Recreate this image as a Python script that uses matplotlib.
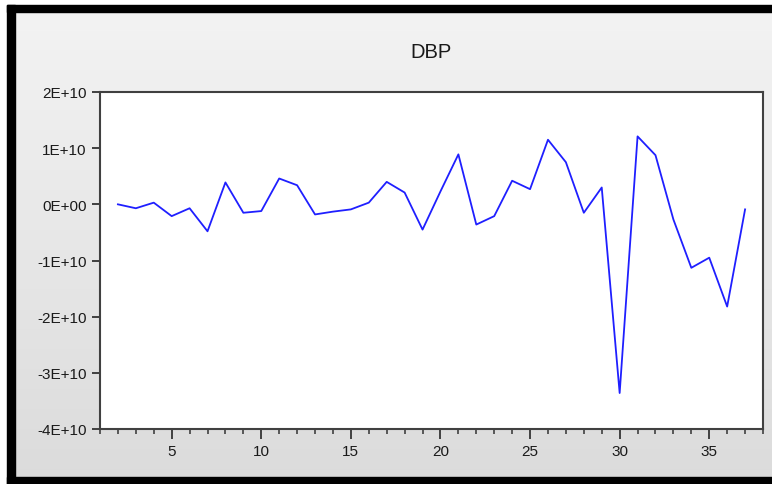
import numpy as np
import matplotlib.pyplot as plt
from matplotlib.patches import Rectangle
from matplotlib.ticker import MultipleLocator

# --- dados (em unidades de 1E+10) ---
periodos = list(range(2, 38))
dbp = [0.00, -0.07, 0.03, -0.21, -0.07, -0.48, 0.39, -0.15, -0.12, 0.46,
       0.34, -0.18, -0.13, -0.09, 0.03, 0.40, 0.21, -0.45, 0.23, 0.89,
       -0.36, -0.21, 0.42, 0.27, 1.15, 0.75, -0.15, 0.30, -3.36, 1.21,
       0.875, -0.27, -1.13, -0.95, -1.82, -0.09]
y_ticks = [2, 1, 0, -1, -2, -3, -4]
y_labels = ['2E+10', '1E+10', '0E+00', '-1E+10', '-2E+10', '-3E+10', '-4E+10']

W, H = 772, 485
fig = plt.figure(figsize=(W / 100, H / 100), dpi=100)
fig.patch.set_facecolor('white')

# fundo em degrade (cinza claro)
ax_bg = fig.add_axes([0, 0, 1, 1], zorder=-2)
grad = np.linspace(0, 1, 256).reshape(-1, 1)
c_top = np.array([0.955, 0.955, 0.955])
c_bot = np.array([0.86, 0.86, 0.86])
img = c_top + grad[..., None] * (c_bot - c_top)
ax_bg.imshow(img, aspect='auto', extent=[0, 1, 0, 1])
ax_bg.set_xlim(0, 1)
ax_bg.set_ylim(0, 1)
ax_bg.axis('off')

# moldura preta da captura de tela
def px_rect(x0, y0, x1, y1, cor):
    fig.patches.append(Rectangle((x0 / W, 1 - y1 / H), (x1 - x0) / W, (y1 - y0) / H,
                                 transform=fig.transFigure, color=cor, zorder=5))

px_rect(0, 0, 772, 6, 'white')
px_rect(0, 0, 7, 485, 'white')
px_rect(7, 6, 772, 13, 'black')
px_rect(7, 6, 15, 485, 'black')
px_rect(7, 478, 772, 485, 'black')

# --- grafico principal ---
ax = fig.add_axes([100 / W, 1 - 430 / H, 663 / W, 337 / H])
ax.set_facecolor('white')
ax.plot(periodos, dbp, color='#1f1fff', lw=1.3)

ax.set_xlim(1, 38)
ax.set_ylim(-4, 2)
ax.xaxis.set_major_locator(MultipleLocator(5))
ax.xaxis.set_minor_locator(MultipleLocator(1))
ax.set_yticks(y_ticks)
ax.set_yticklabels(y_labels)

for s in ax.spines.values():
    s.set_color('#404040')
    s.set_linewidth(1.5)

ax.tick_params(axis='both', which='major', direction='out', color='#404040',
               labelsize=11, labelcolor='#1a1a1a', width=1.4)
ax.tick_params(axis='x', which='major', length=7, pad=4)
ax.tick_params(axis='x', which='minor', length=3.8, width=1.2, color='#404040')
ax.tick_params(axis='y', which='major', length=6, pad=3.5)
for lbl in ax.get_xticklabels() + ax.get_yticklabels():
    lbl.set_family('Liberation Sans')

fig.text(431 / W, 1 - 53 / H, 'DBP', ha='center', va='center',
         fontsize=14.5, family='Liberation Sans', color='#1a1a1a')

fig.savefig('out.png', dpi=100)
